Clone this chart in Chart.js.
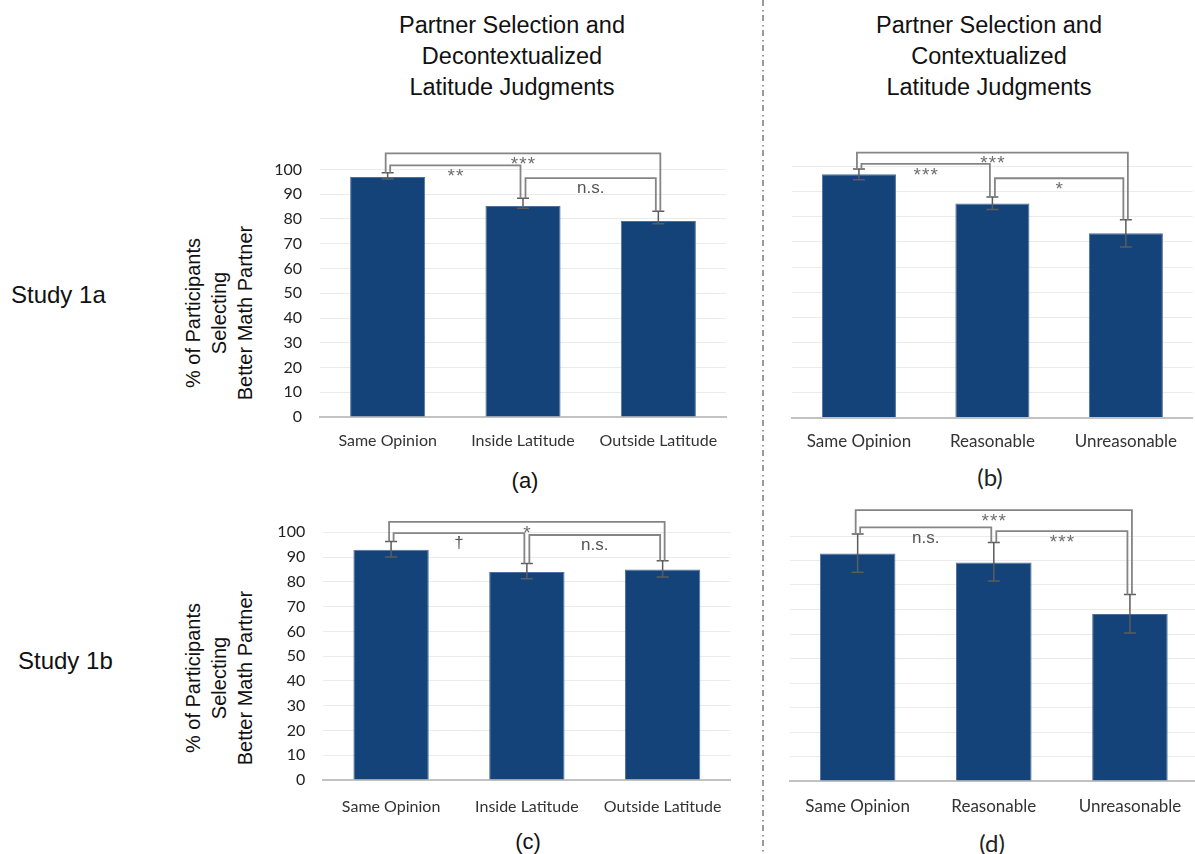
<!DOCTYPE html>
<html>
<head>
<meta charset="utf-8">
<script src="https://cdn.jsdelivr.net/npm/chart.js@4.4.1/dist/chart.umd.min.js"></script>
<style>
  html, body { margin: 0; padding: 0; background: #fff; }
  body { position: relative; width: 1195px; height: 854px; overflow: hidden; }
  .txt { position: absolute; color: #111; font-family: "Liberation Sans", Arial, sans-serif; white-space: nowrap; }
  .title { font-size: 23.5px; line-height: 31px; text-align: center; transform: translateX(-50%); }
  .study { font-size: 24px; line-height: 28px; }
  .ytitle { font-size: 20px; line-height: 26px; text-align: center; transform: translate(-50%, -50%) rotate(-90deg); }
  .panel { font-size: 22px; transform: translate(-50%, -50%); }
  .panel.lato { font-family: Lato, "Open Sans", sans-serif; font-size: 24px; color: #222; }
  canvas { position: absolute; }
</style>
</head>
<body>

<div class="txt title" style="left:512px; top:10px">Partner Selection and<br>Decontextualized<br>Latitude Judgments</div>
<div class="txt title" style="left:989px; top:10px">Partner Selection and<br>Contextualized<br>Latitude Judgments</div>

<div class="txt study" style="left:11px; top:281px">Study 1a</div>
<div class="txt study" style="left:18px; top:647px">Study 1b</div>

<div class="txt ytitle" style="left:219px; top:313px">% of Participants<br>Selecting<br>Better Math Partner</div>
<div class="txt ytitle" style="left:219px; top:678px">% of Participants<br>Selecting<br>Better Math Partner</div>

<div class="txt panel" style="left:525px; top:481px">(a)</div>
<div class="txt panel lato" style="left:990px; top:476px">(b)</div>
<div class="txt panel" style="left:528px; top:842px">(c)</div>
<div class="txt panel lato" style="left:992px; top:842px">(d)</div>

<svg style="position:absolute; left:0; top:0" width="1195" height="854">
  <line x1="763" y1="0" x2="763" y2="854" stroke="#7a7a7a" stroke-width="1.5" stroke-dasharray="6 4 1.5 3.5"/>
</svg>

<canvas id="chartA" width="500" height="360" style="left:240px; top:120px"></canvas>
<canvas id="chartB" width="430" height="360" style="left:770px; top:120px"></canvas>
<canvas id="chartC" width="500" height="360" style="left:240px; top:480px"></canvas>
<canvas id="chartD" width="440" height="360" style="left:770px; top:480px"></canvas>

<script>
// categories
const latitudeLabels = ['Same Opinion', 'Inside Latitude', 'Outside Latitude'];
const contextLabels = ['Same Opinion', 'Reasonable', 'Unreasonable'];

// y axis: 0..100 by 10
const yMin = 0;
const yMax = 100;
const yStep = 10;

// Study 1a, decontextualized (a)
const study1aDecontext = [97, 85.3, 79.2];
const study1aDecontextLow = [96.2, 84.3, 78.1];
const study1aDecontextHigh = [98.7, 88.4, 83.1];
// [from, to, bracket height, label]
const study1aDecontextSig = [[0, 2, 106.5, '***'], [0, 1, 101.7, '**'], [1, 2, 96.5, 'n.s.']];

// Study 1a, contextualized (b)
const study1aContext = [97, 85.3, 73.5];
const study1aContextLow = [94.8, 82.9, 68];
const study1aContextHigh = [99.1, 87.9, 78.8];
const study1aContextSig = [[0, 2, 105.6, '***'], [0, 1, 101.1, '***'], [1, 2, 95.4, '*']];

// Study 1b, decontextualized (c)
const study1bDecontext = [93, 84, 85];
const study1bDecontextLow = [90, 81.2, 82];
const study1bDecontextHigh = [96.3, 87.4, 88.5];
const study1bDecontextSig = [[0, 2, 104.2, '*'], [0, 1, 99.7, '\u2020'], [1, 2, 98.9, 'n.s.']];

// Study 1b, contextualized (d)
const study1bContext = [92.9, 89.2, 68.2];
const study1bContextLow = [85.2, 81.6, 60.4];
const study1bContextHigh = [100.8, 97.3, 76.1];
const study1bContextSig = [[0, 2, 110.6, '***'], [0, 1, 103.5, 'n.s.'], [1, 2, 102, '***']];

const errorBars = {
    id: 'errorBars',
    afterDatasetsDraw(chart, args, opts) {
        const ctx = chart.ctx;
        const x = chart.scales.x, y = chart.scales.y;
        ctx.save();
        ctx.strokeStyle = '#5c5c5c';
        ctx.lineWidth = 1.5;
        opts.low.forEach((lo, i) => {
            const cx = x.getPixelForValue(i);
            const yl = y.getPixelForValue(lo);
            const yh = y.getPixelForValue(opts.high[i]);
            ctx.beginPath();
            ctx.moveTo(cx, yl); ctx.lineTo(cx, yh);
            ctx.moveTo(cx - 6, yl); ctx.lineTo(cx + 6, yl);
            ctx.moveTo(cx - 6, yh); ctx.lineTo(cx + 6, yh);
            ctx.stroke();
        });
        ctx.restore();
    }
};

const brackets = {
    id: 'brackets',
    afterDatasetsDraw(chart, args, opts) {
        const ctx = chart.ctx;
        const x = chart.scales.x, y = chart.scales.y;
        ctx.save();
        opts.list.forEach(b => {
            const [from, to, level, label] = b;
            const outer = to - from > 1;
            const x1 = x.getPixelForValue(from) + (outer ? -2 : 2.5);
            const x2 = x.getPixelForValue(to) + (outer ? 2 : -2.5);
            const top = y.getPixelForValue(level);
            ctx.strokeStyle = '#858585';
            ctx.lineWidth = 1.8;
            ctx.beginPath();
            ctx.moveTo(x1, y.getPixelForValue(opts.high[from]));
            ctx.lineTo(x1, top);
            ctx.lineTo(x2, top);
            ctx.lineTo(x2, y.getPixelForValue(opts.high[to]));
            ctx.stroke();

            const mid = (x.getPixelForValue(from) + x.getPixelForValue(to)) / 2;
            ctx.textAlign = 'center';
            ctx.textBaseline = 'top';
            if (/^\*+$/.test(label)) {
                // stars are spaced out a little, one at a time
                ctx.fillStyle = '#6e6e6e';
                ctx.font = '19px "Liberation Sans", Arial, sans-serif';
                const gap = 8.5;
                const start = mid - (label.length - 1) * gap / 2;
                for (let k = 0; k < label.length; k++) {
                    ctx.fillText('*', start + k * gap, top + 2);
                }
            } else {
                ctx.fillStyle = '#555';
                ctx.font = '17px "Liberation Sans", Arial, sans-serif';
                ctx.fillText(label, mid, top + 2);
            }
        });
        ctx.restore();
    }
};

function makePanel(id, labels, values, low, high, sig, p) {
    const ctx = document.getElementById(id).getContext('2d');
    return new Chart(ctx, {
        type: 'bar',
        data: {
            labels: labels,
            datasets: [{
                data: values,
                backgroundColor: '#14437a',
                borderColor: '#4d719c',
                borderWidth: 1,
                barPercentage: 0.555,
                categoryPercentage: 1
            }]
        },
        options: {
            responsive: false,
            animation: false,
            events: [],
            layout: { padding: { top: p.top, right: p.right, left: 0, bottom: 0 } },
            plugins: {
                legend: { display: false },
                tooltip: { enabled: false },
                errorBars: { low: low, high: high },
                brackets: { list: sig, high: high }
            },
            scales: {
                x: {
                    grid: { display: false, drawTicks: false },
                    border: { display: true, color: '#c2c2c2', width: 2 },
                    ticks: {
                        autoSkip: false,
                        maxRotation: 0,
                        padding: p.xPad,
                        color: '#333',
                        font: { family: 'Lato, "Open Sans", sans-serif', size: p.xFont }
                    },
                    afterFit(scale) { scale.height = p.xH; }
                },
                y: {
                    min: yMin,
                    max: yMax,
                    grid: { color: '#ebebeb', lineWidth: 1, drawTicks: false },
                    border: { display: false },
                    ticks: {
                        display: p.showY,
                        stepSize: yStep,
                        padding: 18,
                        color: '#222',
                        font: { family: 'Lato, "Open Sans", sans-serif', size: 16 }
                    },
                    afterFit(scale) { scale.width = p.yW; }
                }
            }
        },
        plugins: [errorBars, brackets]
    });
}

makePanel('chartA', latitudeLabels, study1aDecontext, study1aDecontextLow, study1aDecontextHigh, study1aDecontextSig,
    { top: 49.5, right: 14, yW: 80, xH: 63, xPad: 14.4, xFont: 16, showY: true });
makePanel('chartB', contextLabels, study1aContext, study1aContextLow, study1aContextHigh, study1aContextSig,
    { top: 46.7, right: 7.4, yW: 22.2, xH: 62.5, xPad: 14, xFont: 17, showY: false });
makePanel('chartC', latitudeLabels, study1bDecontext, study1bDecontextLow, study1bDecontextHigh, study1bDecontextSig,
    { top: 52.3, right: 7, yW: 83.2, xH: 60, xPad: 17.4, xFont: 16, showY: true });
makePanel('chartD', contextLabels, study1bContext, study1bContextLow, study1bContextHigh, study1bContextSig,
    { top: 56, right: 12, yW: 19.6, xH: 59, xPad: 15.5, xFont: 17, showY: false });
</script>
</body>
</html>
